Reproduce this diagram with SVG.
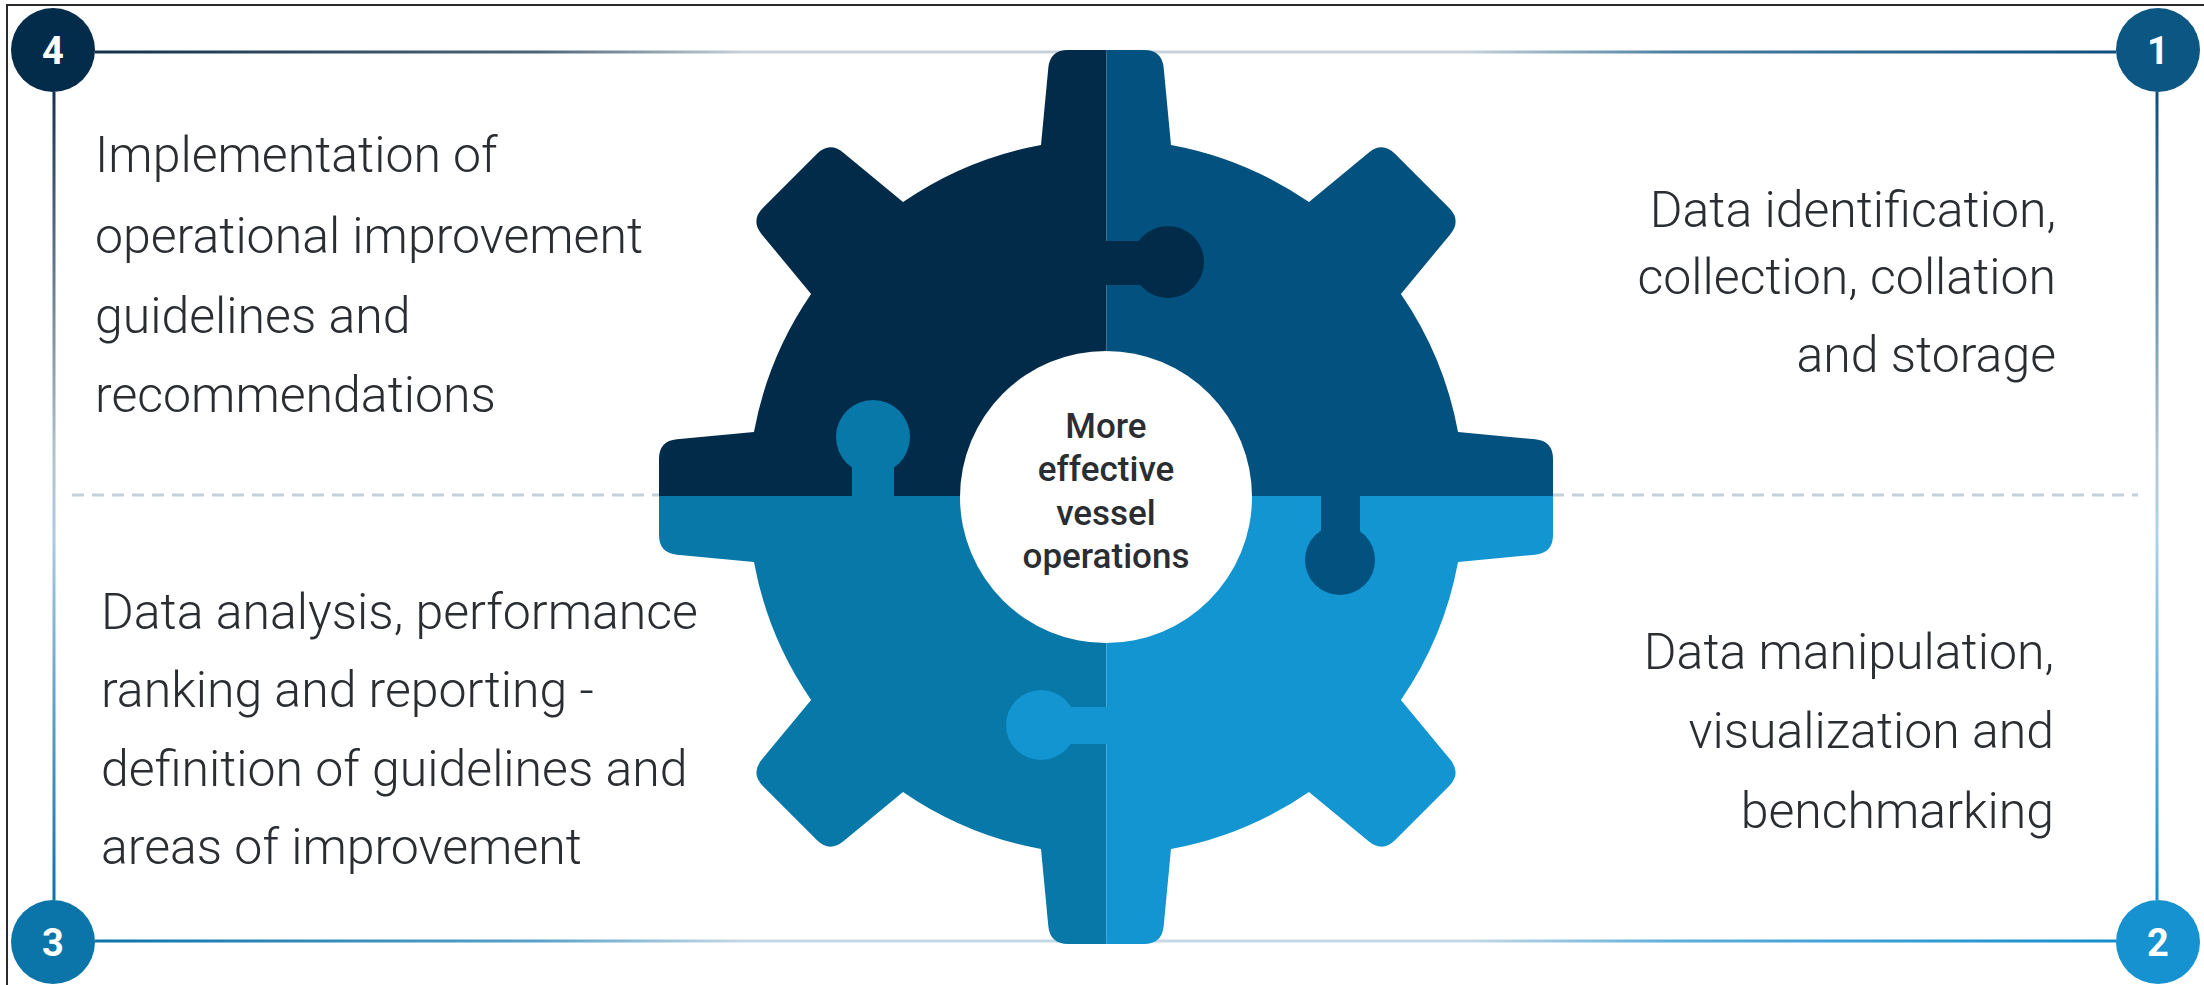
<svg xmlns="http://www.w3.org/2000/svg" width="2204" height="985" viewBox="0 0 2204 985">
<defs>
<style>
.lbl{font-family:Roboto,"Liberation Sans",Arial,sans-serif;font-weight:300;font-size:50px;fill:#2a2d31}
.num{font-family:Roboto,"Liberation Sans",Arial,sans-serif;font-weight:700;font-size:38px;fill:#ffffff;text-anchor:middle}
.ctr{font-family:Roboto,"Liberation Sans",Arial,sans-serif;font-weight:500;font-size:35px;fill:#2a2e33;text-anchor:middle}
.fl{fill:none;stroke-width:3}
</style>
<linearGradient id="gTop" x1="95" y1="0" x2="2116" y2="0" gradientUnits="userSpaceOnUse">
<stop offset="0" stop-color="#15324d"/><stop offset="0.22" stop-color="#4d6578"/><stop offset="0.32" stop-color="#c6d1d9"/><stop offset="0.68" stop-color="#c6d1d9"/><stop offset="0.78" stop-color="#4c7fa2"/><stop offset="1" stop-color="#0f4f7d"/>
</linearGradient>
<linearGradient id="gBot" x1="95" y1="0" x2="2116" y2="0" gradientUnits="userSpaceOnUse">
<stop offset="0" stop-color="#0c73aa"/><stop offset="0.22" stop-color="#5aa2c8"/><stop offset="0.32" stop-color="#c6d8e4"/><stop offset="0.68" stop-color="#c6d8e4"/><stop offset="0.78" stop-color="#5eaedb"/><stop offset="1" stop-color="#138dcc"/>
</linearGradient>
<linearGradient id="gLeft" x1="0" y1="92" x2="0" y2="900" gradientUnits="userSpaceOnUse">
<stop offset="0" stop-color="#15324d"/><stop offset="0.45" stop-color="#b3c3cf"/><stop offset="0.55" stop-color="#aacbe0"/><stop offset="1" stop-color="#0c73aa"/>
</linearGradient>
<linearGradient id="gRight" x1="0" y1="92" x2="0" y2="900" gradientUnits="userSpaceOnUse">
<stop offset="0" stop-color="#0f4f7d"/><stop offset="0.45" stop-color="#b3c8d6"/><stop offset="0.55" stop-color="#aed3ea"/><stop offset="1" stop-color="#138dcc"/>
</linearGradient>
<path id="gearShape" d="M 1041 144.95 L 1048.3 67.92 Q 1050 50 1068 50 L 1144 50 Q 1162 50 1163.7 67.92 L 1171 144.95 A 358 358 0 0 1 1308.98 202.1 L 1368.61 152.8 Q 1382.48 141.33 1395.21 154.05 L 1448.95 207.79 Q 1461.67 220.52 1450.2 234.39 L 1400.9 294.02 A 358 358 0 0 1 1458.05 432 L 1535.08 439.3 Q 1553 441 1553 459 L 1553 535 Q 1553 553 1535.08 554.7 L 1458.05 562 A 358 358 0 0 1 1400.9 699.98 L 1450.2 759.61 Q 1461.67 773.48 1448.95 786.21 L 1395.21 839.95 Q 1382.48 852.67 1368.61 841.2 L 1308.98 791.9 A 358 358 0 0 1 1171 849.05 L 1163.7 926.08 Q 1162 944 1144 944 L 1068 944 Q 1050 944 1048.3 926.08 L 1041 849.05 A 358 358 0 0 1 903.02 791.9 L 843.39 841.2 Q 829.52 852.67 816.79 839.95 L 763.05 786.21 Q 750.33 773.48 761.8 759.61 L 811.1 699.98 A 358 358 0 0 1 753.95 562 L 676.92 554.7 Q 659 553 659 535 L 659 459 Q 659 441 676.92 439.3 L 753.95 432 A 358 358 0 0 1 811.1 294.02 L 761.8 234.39 Q 750.33 220.52 763.05 207.79 L 816.79 154.05 Q 829.52 141.33 843.39 152.8 L 903.02 202.1 A 358 358 0 0 1 1041 144.95 Z"/>
<clipPath id="cTL"><rect x="600" y="0" width="506.5" height="496"/></clipPath>
<clipPath id="cTR"><rect x="1106.5" y="0" width="500" height="496"/></clipPath>
<clipPath id="cBL"><rect x="600" y="496" width="506.5" height="500"/></clipPath>
<clipPath id="cBR"><rect x="1106.5" y="496" width="500" height="500"/></clipPath>
</defs>

<rect x="0" y="0" width="2204" height="985" fill="#ffffff"/>
<g id="outer-border" fill="none" stroke="#2b2b2b" stroke-width="2">
<path d="M 7 990 L 7 5 L 2204 5"/>
</g>

<g id="connectors">
<line class="fl" x1="95" y1="52" x2="2116" y2="52" stroke="url(#gTop)"/>
<line class="fl" x1="95" y1="941" x2="2116" y2="941" stroke="url(#gBot)"/>
<line class="fl" x1="54" y1="92" x2="54" y2="900" stroke="url(#gLeft)"/>
<line class="fl" x1="2157" y1="92" x2="2157" y2="900" stroke="url(#gRight)"/>
<line x1="72" y1="495" x2="2138" y2="495" stroke="#c3d1db" stroke-width="3" stroke-dasharray="12 8"/>
</g>

<g id="gear">
<use href="#gearShape" fill="#022b49" clip-path="url(#cTL)"/>
<use href="#gearShape" fill="#03517e" clip-path="url(#cTR)"/>
<use href="#gearShape" fill="#0878a9" clip-path="url(#cBL)"/>
<use href="#gearShape" fill="#1395d1" clip-path="url(#cBR)"/>
<g id="knob-tl">
<rect x="1100" y="241" width="42" height="44" fill="#022b49"/>
<circle cx="1168" cy="262" r="36" fill="#022b49"/>
</g>
<g id="knob-bl">
<rect x="852" y="455" width="42" height="45" fill="#0878a9"/>
<circle cx="873" cy="437" r="37" fill="#0878a9"/>
</g>
<g id="knob-tr">
<rect x="1321" y="490" width="39" height="45" fill="#03517e"/>
<circle cx="1340" cy="560" r="35" fill="#03517e"/>
</g>
<g id="knob-br">
<rect x="1068" y="707" width="42" height="37" fill="#1395d1"/>
<circle cx="1041" cy="725" r="35" fill="#1395d1"/>
</g>
<g id="center">
<circle cx="1106" cy="497" r="146" fill="#ffffff"/>
<text class="ctr" x="1106" y="438">More</text>
<text class="ctr" x="1106" y="481">effective</text>
<text class="ctr" x="1106" y="525">vessel</text>
<text class="ctr" x="1106" y="568">operations</text>
</g>
</g>

<g id="node-1">
<circle cx="2158" cy="50" r="42" fill="#0b5683"/>
<text class="num" x="2158" y="64">1</text>
<text class="lbl" text-anchor="end" x="2056" y="227">Data identification,</text>
<text class="lbl" text-anchor="end" x="2056" y="294">collection, collation</text>
<text class="lbl" text-anchor="end" x="2056" y="372">and storage</text>
</g>

<g id="node-2">
<circle cx="2158" cy="942" r="42" fill="#1692d0"/>
<text class="num" x="2158" y="956">2</text>
<text class="lbl" text-anchor="end" x="2054" y="669">Data manipulation,</text>
<text class="lbl" text-anchor="end" x="2054" y="748">visualization and</text>
<text class="lbl" text-anchor="end" x="2054" y="828">benchmarking</text>
</g>

<g id="node-3">
<circle cx="53" cy="942" r="42" fill="#0b74a9"/>
<text class="num" x="53" y="956">3</text>
<text class="lbl" x="101" y="629">Data analysis, performance</text>
<text class="lbl" x="101" y="707">ranking and reporting -</text>
<text class="lbl" x="101" y="786">definition of guidelines and</text>
<text class="lbl" x="101" y="864">areas of improvement</text>
</g>

<g id="node-4">
<circle cx="53" cy="50" r="42" fill="#032b4a"/>
<text class="num" x="53" y="64">4</text>
<text class="lbl" x="95" y="172">Implementation of</text>
<text class="lbl" x="95" y="253">operational improvement</text>
<text class="lbl" x="95" y="333">guidelines and</text>
<text class="lbl" x="95" y="412">recommendations</text>
</g>
</svg>
